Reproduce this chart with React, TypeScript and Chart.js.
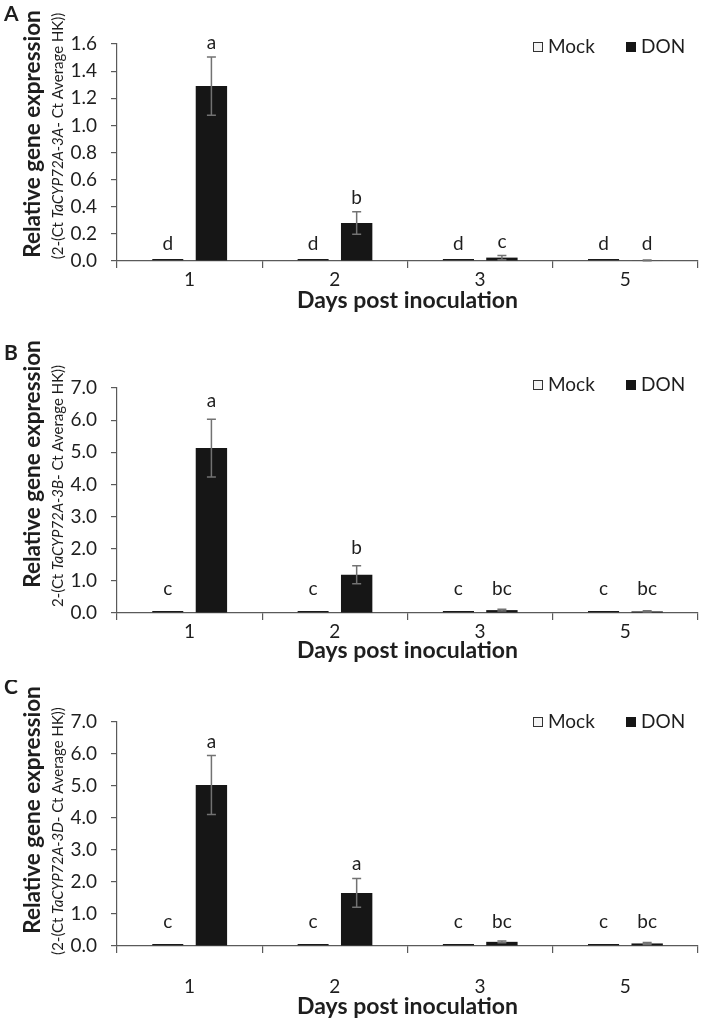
import React, { useEffect, useRef } from "react";
import { Chart, registerables } from "chart.js";

Chart.register(...registerables);

// ---------- data ----------
const days = ["1", "2", "3", "5"];
const seriesNames = ["Mock", "DON"];

const mockA = [0.003, 0.003, 0.003, 0.003];
const donA = [1.29, 0.28, 0.025, 0.004];
const donErrA = [0.215, 0.083, 0.015, 0.003];
const mockLettersA = ["d", "d", "d", "d"];
const donLettersA = ["a", "b", "c", "d"];

const mockB = [0.01, 0.01, 0.01, 0.01];
const donB = [5.13, 1.19, 0.09, 0.05];
const donErrB = [0.9, 0.28, 0.03, 0.02];
const mockLettersB = ["c", "c", "c", "c"];
const donLettersB = ["a", "b", "bc", "bc"];

const mockC = [0.01, 0.01, 0.01, 0.01];
const donC = [5.03, 1.66, 0.13, 0.08];
const donErrC = [0.92, 0.45, 0.03, 0.03];
const mockLettersC = ["c", "c", "c", "c"];
const donLettersC = ["a", "a", "bc", "bc"];

const yTitleMain = "Relative gene expression";
const xTitle = "Days post inoculation";

// ---------- styling / layout ----------
const FONT = 'Lato, "Open Sans", sans-serif';
const TEXT = "#1e1e1e";
const AXIS = "#5a5a5a";
const BAR = "#161616";
const ERR = "#727272";

type Panel = {
  letter: string;
  mock: number[];
  don: number[];
  err: number[];
  mockLetters: string[];
  donLetters: string[];
  yMax: number;
  yStep: number;
  pre: string;
  gene: string;
  post: string;
  top: number;
  height: number;
  chartTop: number;
  chartBottom: number;
  title1Center: number;
  title2Center: number;
  legendY: number;
  letterY: number;
  xLabelPad: number;
  xTitleGap: number;
  mockGap: number;
  donGap: number;
};

const panels: Panel[] = [
  {
    letter: "A", mock: mockA, don: donA, err: donErrA,
    mockLetters: mockLettersA, donLetters: donLettersA,
    yMax: 1.6, yStep: 0.2,
    pre: "(2-(Ct ", gene: "TaCYP72A-3A", post: "- Ct Average HK))",
    top: 0, height: 340, chartTop: 44, chartBottom: 261,
    title1Center: 134, title2Center: 136, legendY: 47, letterY: 4,
    xLabelPad: 0, xTitleGap: 40, mockGap: 11, donGap: 8,
  },
  {
    letter: "B", mock: mockB, don: donB, err: donErrB,
    mockLetters: mockLettersB, donLetters: donLettersB,
    yMax: 7, yStep: 1,
    pre: "2-(Ct ", gene: "TaCYP72A-3B", post: "- Ct Average HK))",
    top: 340, height: 340, chartTop: 388, chartBottom: 613,
    title1Center: 464, title2Center: 486, legendY: 385, letterY: 343,
    xLabelPad: 0, xTitleGap: 38, mockGap: 18, donGap: 12,
  },
  {
    letter: "C", mock: mockC, don: donC, err: donErrC,
    mockLetters: mockLettersC, donLetters: donLettersC,
    yMax: 7, yStep: 1,
    pre: "(2-(Ct ", gene: "TaCYP72A-3D", post: "- Ct Average HK))",
    top: 680, height: 342, chartTop: 722, chartBottom: 946,
    title1Center: 810, title2Center: 831, legendY: 722, letterY: 677,
    xLabelPad: 22, xTitleGap: 61, mockGap: 18, donGap: 8,
  },
];

const annotPlugin = {
  id: "annot",
  afterDatasetsDraw(chart: any, _args: any, opts: any) {
    const p: Panel = opts.panel;
    const ctx: CanvasRenderingContext2D = chart.ctx;
    const ys = chart.scales.y;
    const area = chart.chartArea;
    const mockMeta = chart.getDatasetMeta(0);
    const donMeta = chart.getDatasetMeta(1);
    const off = p.top;
    ctx.save();

    // error bars
    ctx.strokeStyle = ERR;
    ctx.lineWidth = 1.5;
    p.don.forEach((v, i) => {
      const bar = donMeta.data[i];
      const e = p.err[i];
      const yt = ys.getPixelForValue(v + e);
      const yb = ys.getPixelForValue(Math.max(0, v - e));
      ctx.beginPath();
      ctx.moveTo(bar.x, yt);
      ctx.lineTo(bar.x, yb);
      ctx.moveTo(bar.x - 4.5, yt);
      ctx.lineTo(bar.x + 4.5, yt);
      ctx.moveTo(bar.x - 4.5, yb);
      ctx.lineTo(bar.x + 4.5, yb);
      ctx.stroke();
    });

    // significance letters
    ctx.fillStyle = TEXT;
    ctx.font = `19px ${FONT}`;
    ctx.textAlign = "center";
    ctx.textBaseline = "alphabetic";
    const base = ys.getPixelForValue(0);
    p.mock.forEach((v, i) => {
      const bar = mockMeta.data[i];
      ctx.fillText(p.mockLetters[i], bar.x, Math.min(base, ys.getPixelForValue(v)) - p.mockGap);
    });
    p.don.forEach((v, i) => {
      const bar = donMeta.data[i];
      const yt = ys.getPixelForValue(v + p.err[i]);
      ctx.fillText(p.donLetters[i], bar.x, Math.min(base - p.mockGap, yt - p.donGap));
    });

    // x title
    ctx.font = `bold 23px ${FONT}`;
    ctx.textBaseline = "middle";
    ctx.fillText(xTitle, (area.left + area.right) / 2, area.bottom + p.xTitleGap);

    // panel letter
    ctx.font = `bold 21px ${FONT}`;
    ctx.textAlign = "left";
    ctx.textBaseline = "top";
    ctx.fillText(p.letter, 4, p.letterY - off);

    // y title, two lines, rotated
    ctx.save();
    ctx.translate(33, p.title1Center - off);
    ctx.rotate(-Math.PI / 2);
    ctx.font = `bold 22.5px ${FONT}`;
    ctx.textAlign = "center";
    ctx.textBaseline = "middle";
    ctx.fillText(yTitleMain, 0, 0);
    ctx.restore();

    ctx.save();
    ctx.translate(58, p.title2Center - off);
    ctx.rotate(-Math.PI / 2);
    ctx.textBaseline = "middle";
    ctx.textAlign = "left";
    const fN = `15px ${FONT}`;
    const fI = `italic 15px ${FONT}`;
    ctx.font = fN;
    const w1 = ctx.measureText(p.pre).width;
    const w3 = ctx.measureText(p.post).width;
    ctx.font = fI;
    const w2 = ctx.measureText(p.gene).width;
    let x = -(w1 + w2 + w3) / 2;
    ctx.font = fN;
    ctx.fillText(p.pre, x, 0);
    x += w1;
    ctx.font = fI;
    ctx.fillText(p.gene, x, 0);
    x += w2;
    ctx.font = fN;
    ctx.fillText(p.post, x, 0);
    ctx.restore();

    // legend
    const ly = p.legendY - off;
    ctx.font = `19px ${FONT}`;
    ctx.textAlign = "left";
    ctx.textBaseline = "middle";
    ctx.fillStyle = "#f4f4f4";
    ctx.fillRect(533, ly - 5, 10, 10);
    ctx.strokeStyle = "#333";
    ctx.lineWidth = 1;
    ctx.strokeRect(533.5, ly - 4.5, 9, 9);
    ctx.fillStyle = TEXT;
    ctx.fillText(seriesNames[0], 548, ly);
    ctx.fillStyle = BAR;
    ctx.fillRect(626, ly - 5, 10, 10);
    ctx.fillStyle = TEXT;
    ctx.fillText(seriesNames[1], 641, ly);

    ctx.restore();
  },
};

function PanelChart({ p }: { p: Panel }) {
  const ref = useRef<HTMLCanvasElement>(null);
  useEffect(() => {
    if (!ref.current) return;
    const xH = p.height - (p.chartBottom - p.top);
    const chart = new Chart(ref.current, {
      type: "bar",
      data: {
        labels: days,
        datasets: [
          {
            label: seriesNames[0],
            data: p.mock,
            backgroundColor: "#ffffff",
            borderColor: "#1a1a1a",
            borderWidth: 1,
            borderSkipped: false,
            minBarLength: 2,
            categoryPercentage: 0.6,
            barPercentage: 0.72,
          },
          {
            label: seriesNames[1],
            data: p.don,
            backgroundColor: BAR,
            borderWidth: 0,
            categoryPercentage: 0.6,
            barPercentage: 0.72,
          },
        ],
      },
      options: {
        responsive: false,
        animation: false,
        devicePixelRatio: 1,
        layout: { padding: { top: p.chartTop - p.top, right: 4, bottom: 0, left: 0 } },
        plugins: {
          legend: { display: false },
          tooltip: { enabled: false },
          title: { display: false },
          annot: { panel: p },
        } as any,
        scales: {
          x: {
            offset: true,
            grid: {
              offset: true,
              drawOnChartArea: false,
              drawTicks: true,
              tickLength: 7,
              color: AXIS,
              lineWidth: 1.2,
            },
            border: { color: AXIS, width: 1.2 },
            ticks: { color: TEXT, font: { family: FONT, size: 19 }, padding: p.xLabelPad },
            afterFit: (s: any) => {
              s.height = xH;
            },
          },
          y: {
            min: 0,
            max: p.yMax,
            grid: {
              drawOnChartArea: false,
              drawTicks: true,
              tickLength: 6,
              color: AXIS,
              lineWidth: 1.2,
            },
            border: { color: AXIS, width: 1.2 },
            ticks: {
              stepSize: p.yStep,
              color: TEXT,
              font: { family: FONT, size: 19 },
              padding: 14,
              callback: (v: any) => Number(v).toFixed(1),
            },
            afterFit: (s: any) => {
              s.width = 117;
            },
          },
        },
      },
      plugins: [annotPlugin],
    });
    return () => chart.destroy();
  }, [p]);
  return (
    <canvas
      ref={ref}
      width={702}
      height={p.height}
      style={{ position: "absolute", left: 0, top: p.top, width: 702, height: p.height, display: "block" }}
    />
  );
}

export default function App() {
  return (
    <div style={{ position: "absolute", left: 0, top: 0, width: 702, height: 1022, background: "#fff" }}>
      {panels.map((p) => (
        <PanelChart key={p.letter} p={p} />
      ))}
    </div>
  );
}
